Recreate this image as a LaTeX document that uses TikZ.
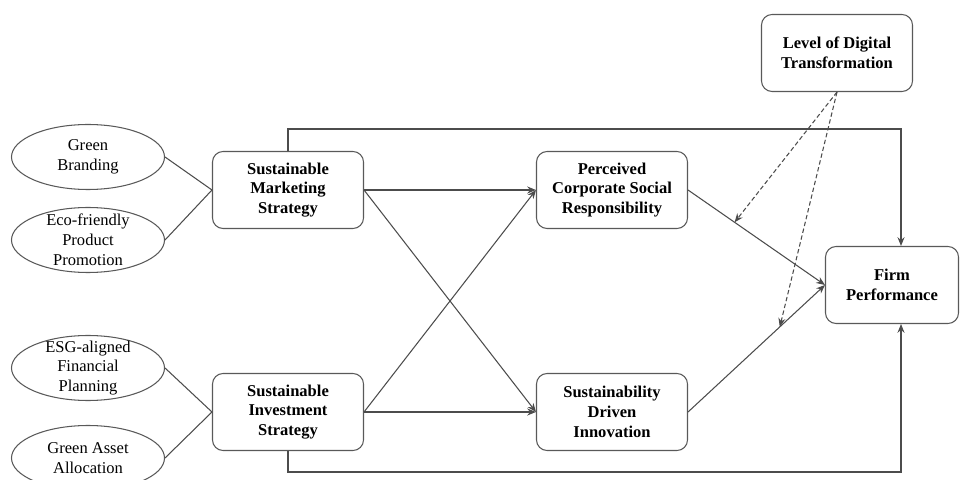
\documentclass[tikz,border=0pt]{standalone}
\usepackage{fontspec}
\setmainfont{Liberation Serif}
\usepackage{tikz}
\usetikzlibrary{shapes.geometric,arrows.meta}

\begin{document}
\begin{tikzpicture}[
    construct/.style={draw=black!65,rounded corners=6pt,line width=0.6pt,
      minimum width=3.02cm,minimum height=1.54cm,align=center,
      font=\fontsize{9.4}{11.3}\selectfont\bfseries},
    item/.style={ellipse,draw=black!65,line width=0.6pt,inner sep=0pt,
      minimum width=3.06cm,minimum height=1.3cm},
    itemtext/.style={align=center,font=\fontsize{9.4}{11.3}\selectfont},
    link/.style={draw=black!70,line width=0.6pt},
    effect/.style={link,-{Stealth[length=5pt,width=4pt]}},
    moderation/.style={effect,dashed,dash pattern=on 2.5pt off 1.5pt}]
  \useasboundingbox (0,0) rectangle (19.28,9.58);

  % measured items
  \node[item] (gb) at (1.76,6.44) {};
  \node[itemtext] at (gb) {Green\\Branding};
  \node[item] (eco) at (1.76,4.78) {};
  \node[itemtext] at (eco) {Eco-friendly\\Product\\Promotion};
  \node[item] (esg) at (1.76,2.22) {};
  \node[itemtext] at (esg) {ESG-aligned\\Financial\\Planning};
  \node[item] (ga) at (1.76,0.42) {};
  \node[itemtext] at (ga) {Green Asset\\Allocation};

  % constructs
  \node[construct] (sms) at (5.76,5.78) {Sustainable\\Marketing\\Strategy};
  \node[construct] (sis) at (5.76,1.34) {Sustainable\\Investment\\Strategy};
  \node[construct] (pcsr) at (12.24,5.78) {Perceived\\Corporate Social\\Responsibility};
  \node[construct] (sdi) at (12.24,1.34) {Sustainability\\Driven\\Innovation};
  \node[construct,minimum width=2.66cm] (fp) at (17.84,3.88) {Firm\\Performance};
  \node[construct] (ldt) at (16.74,8.52) {Level of Digital\\Transformation};

  % items load on their strategy
  \draw[link] (gb.east) -- (sms.west);
  \draw[link] (eco.east) -- (sms.west);
  \draw[link] (esg.east) -- (sis.west);
  \draw[link] (ga.east) -- (sis.west);

  % structural paths
  \draw[effect] (sms.east) -- (pcsr.west);
  \draw[effect] (sms.east) -- (sdi.west);
  \draw[effect] (sis.east) -- (pcsr.west);
  \draw[effect] (sis.east) -- (sdi.west);
  \draw[effect] (pcsr.east) -- coordinate[pos=0.34] (m1) (fp.west);
  \draw[effect] (sdi.east) -- coordinate[pos=0.67] (m2) (fp.west);

  % direct effects
  \coordinate (top) at (18.02,7.0);
  \coordinate (bot) at (18.02,0.14);
  \draw[effect] (sms.north) |- (top) -- (top |- fp.north);
  \draw[effect] (sis.south) |- (bot) -- (bot |- fp.south);

  % moderating effects
  \draw[moderation] (ldt.south) -- (m1);
  \draw[moderation] (ldt.south) -- (m2);
\end{tikzpicture}
\end{document}
